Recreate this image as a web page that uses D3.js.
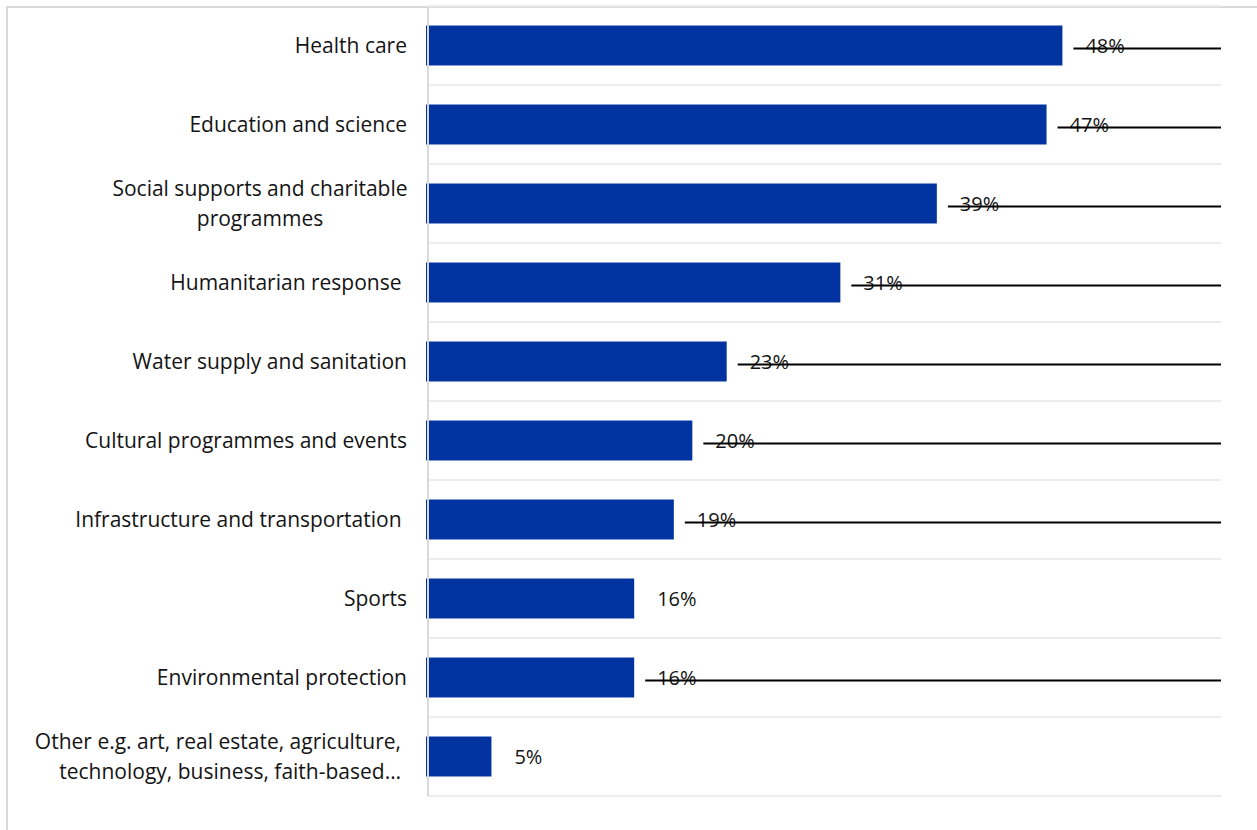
<!DOCTYPE html>
<html>
<head>
<meta charset="utf-8">
<script src="https://cdn.jsdelivr.net/npm/d3@7"></script>
<style>
  html, body { margin: 0; padding: 0; background: #fff; }
  svg { display: block; }
  text { font-family: "Open Sans", "Noto Sans", sans-serif; fill: #141414; white-space: pre; }
</style>
</head>
<body>
<svg id="chart" width="1257" height="830"></svg>
<script>
const categories = [
  "Health care",
  "Education and science",
  "Social supports and charitable programmes",
  "Humanitarian response",
  "Water supply and sanitation",
  "Cultural programmes and events",
  "Infrastructure and transportation",
  "Sports",
  "Environmental protection",
  "Other e.g. art, real estate, agriculture, technology, business, faith-based…"
];
const labelLines = [
  ["Health care"],
  ["Education and science"],
  ["Social supports and charitable", "programmes"],
  ["Humanitarian response "],
  ["Water supply and sanitation"],
  ["Cultural programmes and events"],
  ["Infrastructure and transportation "],
  ["Sports"],
  ["Environmental protection"],
  ["Other e.g. art, real estate, agriculture,", "technology, business, faith-based…"]
];
const values = [48, 46.8, 38.5, 31.2, 22.6, 20, 18.6, 15.6, 15.6, 4.8];
const valueLabels = ["48%", "47%", "39%", "31%", "23%", "20%", "19%", "16%", "16%", "5%"];
const leaderLines = [true, true, true, true, true, true, true, false, true, false];
const xDomain = [0, 60];

(function () {
const svg = d3.select("#chart");
const pLeft = 428, pRight = 1221, pTop = 6, pBottom = 796;

// outer frame
svg.append("rect")
  .attr("x", 7).attr("y", 7).attr("width", 1400).attr("height", 1000)
  .attr("fill", "none").attr("stroke", "#d9d9d9").attr("stroke-width", 2);

const x = d3.scaleLinear().domain(xDomain).range([pLeft, pRight]);
const y = d3.scaleBand().domain(categories).range([pTop, pBottom])
  .paddingInner(0.494).paddingOuter(0.247);
const step = y.step();
const rowTop = c => y(c) - (step - y.bandwidth()) / 2;

// gridlines at row boundaries
const bounds = categories.map(rowTop).concat([rowTop(categories[categories.length - 1]) + step]);
svg.append("g").selectAll("line").data(bounds).join("line")
  .attr("x1", pLeft).attr("x2", pRight)
  .attr("y1", d => d).attr("y2", d => d)
  .attr("stroke", "#ededed").attr("stroke-width", 2);

// bars
svg.append("g").selectAll("rect").data(categories).join("rect")
  .attr("x", x(0) - 2)
  .attr("y", c => y(c))
  .attr("width", (c, i) => x(values[i]) - x(0) + 2)
  .attr("height", y.bandwidth())
  .attr("fill", "#0033a0");

// vertical axis line
svg.append("line")
  .attr("x1", pLeft).attr("x2", pLeft).attr("y1", pTop).attr("y2", pBottom)
  .attr("stroke", "#d9d9d9").attr("stroke-width", 2);

// value labels
svg.append("g").selectAll("text").data(categories).join("text")
  .attr("x", (c, i) => x(values[i]) + 23)
  .attr("y", c => y(c) + y.bandwidth() / 2)
  .attr("dy", "0.36em")
  .attr("font-size", 20)
  .text((c, i) => valueLabels[i]);

// leader lines
svg.append("g").selectAll("line")
  .data(categories.filter((c, i) => leaderLines[i]))
  .join("line")
  .attr("x1", c => x(values[categories.indexOf(c)]) + 11)
  .attr("x2", pRight)
  .attr("y1", c => y(c) + y.bandwidth() / 2 + 3)
  .attr("y2", c => y(c) + y.bandwidth() / 2 + 3)
  .attr("stroke", "#000").attr("stroke-width", 2);

// category labels
const lab = svg.append("g").selectAll("text").data(categories).join("text")
  .attr("font-size", 21)
  .attr("text-anchor", (c, i) => i === 2 ? "middle" : "end")
  .attr("y", c => y(c) + y.bandwidth() / 2);
lab.each(function(c, i) {
  const lines = labelLines[i];
  const n = lines.length;
  const ax = i === 2 ? 260 : (i === 9 ? 401 : 407);
  d3.select(this).selectAll("tspan").data(lines).join("tspan")
    .attr("x", ax)
    .attr("dy", (d, k) => k === 0 ? (0.36 - (n - 1) * 0.72) + "em" : "1.44em")
    .text(d => d);
});
})();
</script>
</body>
</html>
